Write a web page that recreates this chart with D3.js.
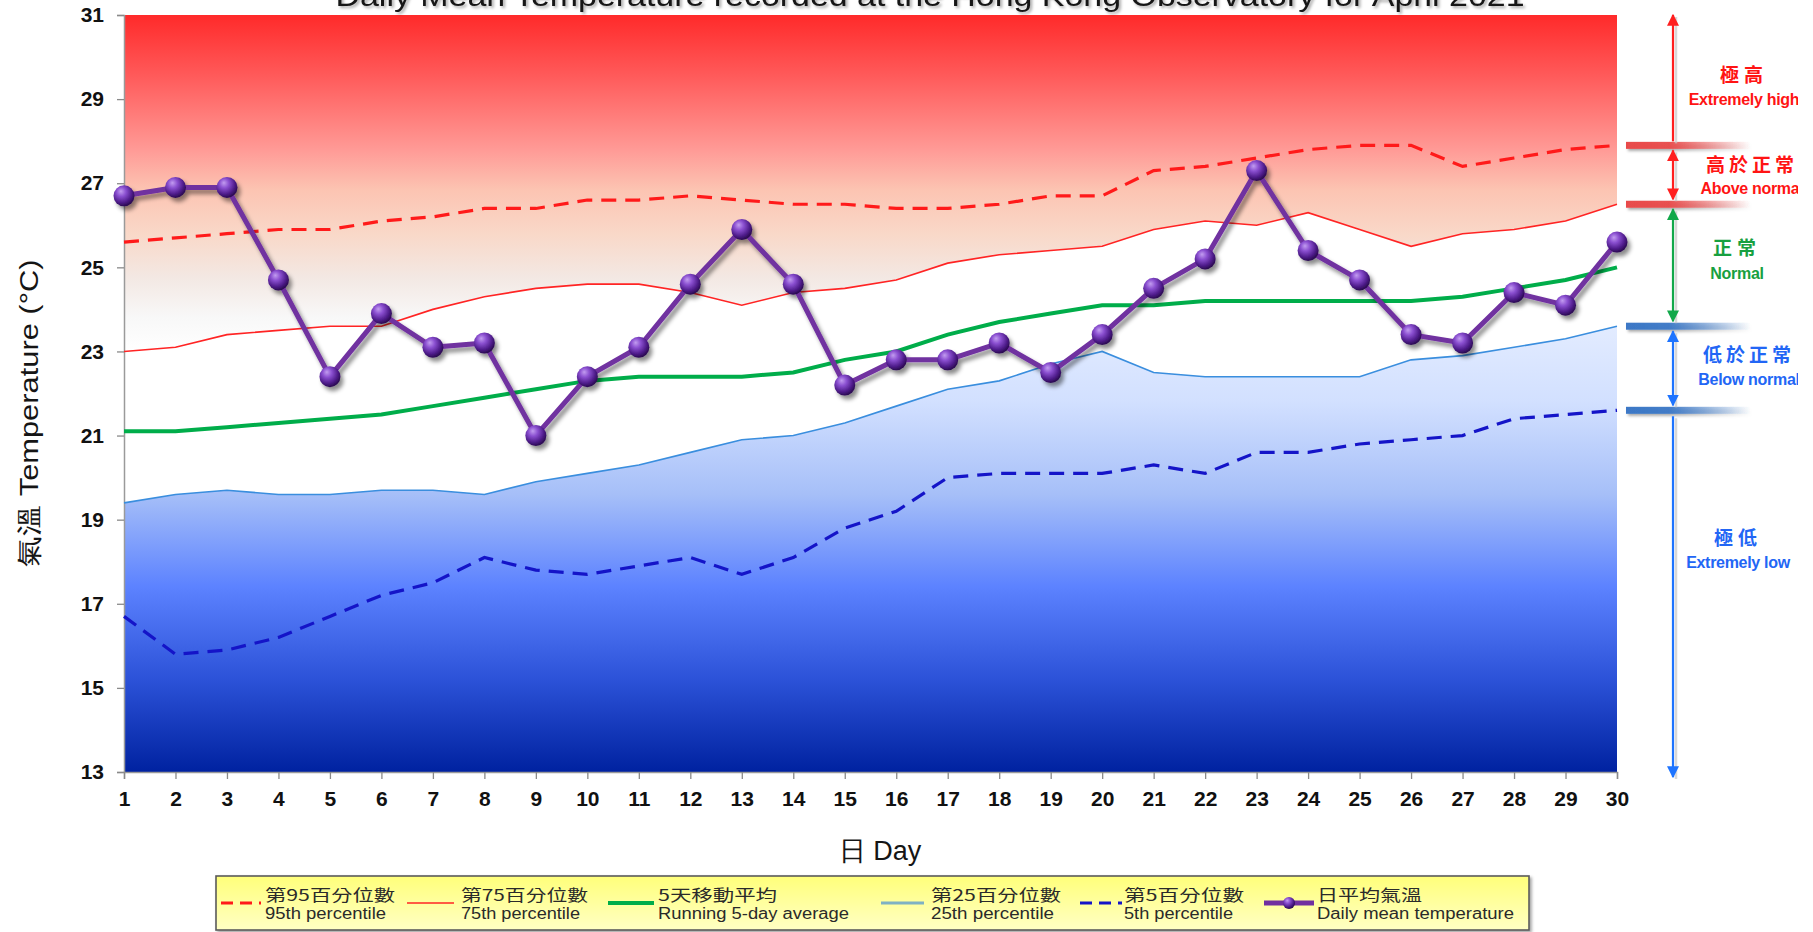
<!DOCTYPE html>
<html>
<head>
<meta charset="utf-8">
<script src="https://cdn.jsdelivr.net/npm/d3@7"></script>
<style>
  html, body { margin: 0; padding: 0; background: #fff; }
  svg { display: block; }
  text { font-family: "Liberation Sans", Arial, sans-serif; }
  .cjk { font-family: "Noto Sans CJK TC", "Noto Sans CJK SC", sans-serif; }
</style>
</head>
<body>
<svg id="chart" width="1813" height="932"></svg>
<script>
// April 2021 daily mean temperature (°C) with climatological percentiles
const days = [1,2,3,4,5,6,7,8,9,10,11,12,13,14,15,16,17,18,19,20,21,22,23,24,25,26,27,28,29,30];
const dailyMean = [26.7,26.9,26.9,24.7,22.4,23.9,23.1,23.2,21.0,22.4,23.1,24.6,25.9,24.6,22.2,22.8,22.8,23.2,22.5,23.4,24.5,25.2,27.3,25.4,24.7,23.4,23.2,24.4,24.1,25.6];
const p95 = [25.6,25.7,25.8,25.9,25.9,26.1,26.2,26.4,26.4,26.6,26.6,26.7,26.6,26.5,26.5,26.4,26.4,26.5,26.7,26.7,27.3,27.4,27.6,27.8,27.9,27.9,27.4,27.6,27.8,27.9];
const p75 = [23.0,23.1,23.4,23.5,23.6,23.6,24.0,24.3,24.5,24.6,24.6,24.4,24.1,24.4,24.5,24.7,25.1,25.3,25.4,25.5,25.9,26.1,26.0,26.3,25.9,25.5,25.8,25.9,26.1,26.5];
const running5 = [21.1,21.1,21.2,21.3,21.4,21.5,21.7,21.9,22.1,22.3,22.4,22.4,22.4,22.5,22.8,23.0,23.4,23.7,23.9,24.1,24.1,24.2,24.2,24.2,24.2,24.2,24.3,24.5,24.7,25.0];
const p25 = [19.4,19.6,19.7,19.6,19.6,19.7,19.7,19.6,19.9,20.1,20.3,20.6,20.9,21.0,21.3,21.7,22.1,22.3,22.7,23.0,22.5,22.4,22.4,22.4,22.4,22.8,22.9,23.1,23.3,23.6];
const p5 = [16.7,15.8,15.9,16.2,16.7,17.2,17.5,18.1,17.8,17.7,17.9,18.1,17.7,18.1,18.8,19.2,20.0,20.1,20.1,20.1,20.3,20.1,20.6,20.6,20.8,20.9,21.0,21.4,21.5,21.6];
const yTicks = [13,15,17,19,21,23,25,27,29,31];

const titleText = "Daily Mean Temperature recorded at the Hong Kong Observatory for April 2021";
const yTitle = "氣溫  Temperature (°C)";
const xTitle = "日 Day";
const legendZh = ["第95百分位數","第75百分位數","5天移動平均","第25百分位數","第5百分位數","日平均氣溫"];
const legendEn = ["95th percentile","75th percentile","Running 5-day average","25th percentile","5th percentile","Daily mean temperature"];
const bandZh = ["極高","高於正常","正常","低於正常","極低"];
const bandEn = ["Extremely high","Above normal","Normal","Below normal","Extremely low"];

const svg = d3.select("#chart");
const W = 1813, H = 932;
const x = d3.scaleLinear().domain([1, 30]).range([124, 1617]);
const y = d3.scaleLinear().domain([13, 31]).range([772, 15]);

const defs = svg.append("defs");

// vertical colour ramps tied to temperature, not to each area's own box
const redGrad = defs.append("linearGradient").attr("id", "redGrad")
  .attr("gradientUnits", "userSpaceOnUse")
  .attr("x1", 0).attr("x2", 0).attr("y1", y(31)).attr("y2", y(23));
[[0, "#ff2a2a"], [0.18, "#ff5a5a"], [0.4, "#ff9a96"], [0.52, "#fcc4b2"], [0.65, "#f9d8c8"], [0.78, "#f3e8e3"], [0.9, "#f8f8f8"], [1, "#ffffff"]]
  .forEach(([o, c]) => redGrad.append("stop").attr("offset", o).attr("stop-color", c));

const blueGrad = defs.append("linearGradient").attr("id", "blueGrad")
  .attr("gradientUnits", "userSpaceOnUse")
  .attr("x1", 0).attr("x2", 0).attr("y1", y(24)).attr("y2", y(13));
[[0, "#e6eeff"], [0.2, "#d2e0ff"], [0.4, "#a6bff8"], [0.6, "#5c82ff"], [0.8, "#2c52d8"], [1, "#0022a0"]]
  .forEach(([o, c]) => blueGrad.append("stop").attr("offset", o).attr("stop-color", c));

// sphere markers
const ball = defs.append("radialGradient").attr("id", "ball")
  .attr("cx", "40%").attr("cy", "35%").attr("r", "65%").attr("fx", "35%").attr("fy", "28%");
[[0, "#c29cf0"], [0.35, "#8a4fd0"], [0.75, "#4e1c8a"], [1, "#2a0a50"]]
  .forEach(([o, c]) => ball.append("stop").attr("offset", o).attr("stop-color", c));

const shadow = defs.append("filter").attr("id", "shadow")
  .attr("x", "-10%").attr("y", "-10%").attr("width", "130%").attr("height", "130%");
shadow.append("feDropShadow").attr("dx", 3).attr("dy", 4).attr("stdDeviation", 2.2)
  .attr("flood-color", "#000").attr("flood-opacity", 0.45);

const softShadow = defs.append("filter").attr("id", "softShadow")
  .attr("x", "-10%").attr("y", "-50%").attr("width", "130%").attr("height", "250%");
softShadow.append("feDropShadow").attr("dx", 2).attr("dy", 2).attr("stdDeviation", 1.5)
  .attr("flood-color", "#000").attr("flood-opacity", 0.35);

// threshold bars fading out to the right
function barGrad(id, color) {
  const g = defs.append("linearGradient").attr("id", id).attr("x1", 0).attr("x2", 1).attr("y1", 0).attr("y2", 0);
  g.append("stop").attr("offset", 0).attr("stop-color", color).attr("stop-opacity", 1);
  g.append("stop").attr("offset", 0.35).attr("stop-color", color).attr("stop-opacity", 0.95);
  g.append("stop").attr("offset", 1).attr("stop-color", color).attr("stop-opacity", 0);
}
barGrad("barRed", "#e84a4a");
barGrad("barBlue", "#3c78c6");

const legendGrad = defs.append("linearGradient").attr("id", "legendGrad").attr("x1", 0).attr("x2", 0).attr("y1", 0).attr("y2", 1);
legendGrad.append("stop").attr("offset", 0).attr("stop-color", "#ffff7a");
legendGrad.append("stop").attr("offset", 1).attr("stop-color", "#ffffc4");

defs.append("clipPath").attr("id", "rightClip").append("rect")
  .attr("x", 0).attr("y", 0).attr("width", 1798).attr("height", H);

function arrowMarker(id, color) {
  defs.append("marker").attr("id", id).attr("viewBox", "0 0 10 10")
    .attr("refX", 9).attr("refY", 5)
    .attr("orient", "auto-start-reverse").attr("markerUnits", "userSpaceOnUse")
    .attr("markerWidth", 12).attr("markerHeight", 12)
    .append("path").attr("d", "M0,0 L10,5 L0,10 z").attr("fill", color);
}
arrowMarker("arRed", "#ff1f1f");
arrowMarker("arGreen", "#12a84a");
arrowMarker("arBlue", "#1e74ff");

// ---- shaded bands ----
svg.append("path").datum(days)
  .attr("fill", "url(#redGrad)")
  .attr("d", d3.area().x(d => x(d)).y0(y(31)).y1((d, i) => y(p75[i])));

svg.append("path").datum(days)
  .attr("fill", "url(#blueGrad)")
  .attr("d", d3.area().x(d => x(d)).y0((d, i) => y(p25[i])).y1(y(13)));

// ---- axes ----
const yAxis = svg.append("g").attr("transform", `translate(${x(1)},0)`)
  .call(d3.axisLeft(y).tickValues(yTicks).tickSize(7).tickPadding(13).tickFormat(d3.format("d")));
const xAxis = svg.append("g").attr("transform", `translate(0,${y(13)})`)
  .call(d3.axisBottom(x).tickValues(days).tickSize(7).tickPadding(12).tickFormat(d3.format("d")));
[yAxis, xAxis].forEach(a => {
  a.select(".domain").attr("stroke", "#9a9a9a").attr("stroke-width", 1.5);
  a.selectAll(".tick line").attr("stroke", "#8a8a8a").attr("stroke-width", 1.3);
  a.selectAll(".tick text").attr("fill", "#111").attr("font-size", 21).attr("font-weight", "bold")
    .attr("font-family", "'Liberation Sans', Arial, sans-serif");
});

// ---- series lines ----
const line = vals => d3.line().x((d, i) => x(days[i])).y(d => y(d))(vals);

svg.append("path").attr("d", line(p75)).attr("fill", "none").attr("stroke", "#ff2424").attr("stroke-width", 1.6);
svg.append("path").attr("d", line(p25)).attr("fill", "none").attr("stroke", "#3a8ede").attr("stroke-width", 1.6);
svg.append("path").attr("d", line(p95)).attr("fill", "none").attr("stroke", "#ff1a1a").attr("stroke-width", 3.2)
  .attr("stroke-dasharray", "15,9");
svg.append("path").attr("d", line(p5)).attr("fill", "none").attr("stroke", "#1414c8").attr("stroke-width", 3.2)
  .attr("stroke-dasharray", "15,9");
svg.append("path").attr("d", line(running5)).attr("fill", "none").attr("stroke", "#00ad4a").attr("stroke-width", 4);

const daily = svg.append("g").attr("filter", "url(#shadow)");
daily.append("path").attr("d", line(dailyMean)).attr("fill", "none")
  .attr("stroke", "#7030a0").attr("stroke-width", 5).attr("stroke-linejoin", "round");
daily.selectAll("circle").data(dailyMean).join("circle")
  .attr("cx", (d, i) => x(days[i])).attr("cy", d => y(d)).attr("r", 10.5)
  .attr("fill", "url(#ball)");

// ---- category bands on the right ----
const last = a => a[a.length - 1];
const ann = svg.append("g");
const barX = 1626, barW = 124, arrowX = 1673;
[[last(p95), "barRed"], [last(p75), "barRed"], [last(p25), "barBlue"], [last(p5), "barBlue"]].forEach(([v, g]) => {
  ann.append("rect").attr("x", barX).attr("y", y(v) - 3.5).attr("width", barW).attr("height", 7)
    .attr("fill", `url(#${g})`).attr("filter", "url(#softShadow)");
});

const arrows = [
  { y1: y(31), y2: y(last(p95)) - 4, color: "#ff1f1f", m: "arRed", start: true, end: false },
  { y1: y(last(p95)) + 5, y2: y(last(p75)) - 5, color: "#ff1f1f", m: "arRed", start: true, end: true },
  { y1: y(last(p75)) + 5, y2: y(last(p25)) - 5, color: "#12a84a", m: "arGreen", start: true, end: true },
  { y1: y(last(p25)) + 5, y2: y(last(p5)) - 5, color: "#1e74ff", m: "arBlue", start: true, end: true },
  { y1: y(last(p5)) + 6, y2: y(13) + 5, color: "#1e74ff", m: "arBlue", start: false, end: true }
];
arrows.forEach(a => {
  ann.append("line").attr("x1", arrowX + 3).attr("x2", arrowX + 3).attr("y1", a.y1 + 2).attr("y2", a.y2 + 2)
    .attr("stroke", "#c8c8c8").attr("stroke-width", 2.5).attr("opacity", 0.7);
  const l = ann.append("line").attr("x1", arrowX).attr("x2", arrowX).attr("y1", a.y1).attr("y2", a.y2)
    .attr("stroke", a.color).attr("stroke-width", 2.2);
  if (a.start) l.attr("marker-start", `url(#${a.m})`);
  if (a.end) l.attr("marker-end", `url(#${a.m})`);
});

const bandLabels = [
  { cx: 1744, yz: 82, ye: 105, color: "#ff1414" },
  { cx: 1752, yz: 172, ye: 194, color: "#ff1414" },
  { cx: 1737, yz: 255, ye: 279, color: "#17a040" },
  { cx: 1749, yz: 362, ye: 385, color: "#2266f5" },
  { cx: 1738, yz: 545, ye: 568, color: "#2266f5" }
];
const bandG = ann.append("g").attr("clip-path", "url(#rightClip)");
bandLabels.forEach((b, i) => {
  bandG.append("text").attr("class", "cjk").attr("x", b.cx).attr("y", b.yz)
    .attr("text-anchor", "middle").attr("font-size", 19).attr("font-weight", "bold")
    .attr("letter-spacing", bandZh[i].length > 2 ? 4 : 5).attr("fill", b.color).text(bandZh[i]);
  bandG.append("text").attr("x", b.cx).attr("y", b.ye)
    .attr("text-anchor", "middle").attr("font-size", 16).attr("font-weight", "bold")
    .attr("letter-spacing", -0.3).attr("fill", b.color).text(bandEn[i]);
});

// ---- titles ----
svg.append("text").attr("x", 930).attr("y", 6).attr("text-anchor", "middle")
  .attr("font-size", 30).attr("fill", "#151515").attr("textLength", 1189).attr("lengthAdjust", "spacingAndGlyphs")
  .attr("filter", "url(#softShadow)").text(titleText);

svg.append("text").attr("transform", "translate(38,413) rotate(-90)").attr("text-anchor", "middle")
  .attr("font-size", 26).attr("fill", "#151515").attr("textLength", 307).attr("lengthAdjust", "spacingAndGlyphs")
  .attr("font-family", "'Liberation Sans', 'Noto Sans CJK TC', sans-serif").text(yTitle);

svg.append("text").attr("x", 880).attr("y", 860).attr("text-anchor", "middle")
  .attr("font-size", 27).attr("fill", "#151515")
  .attr("font-family", "'Liberation Sans', 'Noto Sans CJK TC', sans-serif").text(xTitle);

// ---- legend ----
const lg = svg.append("g");
lg.append("rect").attr("x", 216).attr("y", 876).attr("width", 1313).attr("height", 54)
  .attr("fill", "url(#legendGrad)").attr("stroke", "#5a5a5a").attr("stroke-width", 1.6)
  .attr("filter", "url(#softShadow)");

const legendItems = [
  { x1: 221, x2: 261, tx: 265, wz: 130, we: 121, stroke: "#ff1a1a", w: 3, dash: "12,7" },
  { x1: 407, x2: 454, tx: 461, wz: 127, we: 119, stroke: "#ff2424", w: 1.6 },
  { x1: 608, x2: 654, tx: 658, wz: 119, we: 191, stroke: "#00ad4a", w: 4 },
  { x1: 881, x2: 924, tx: 931, wz: 130, we: 123, stroke: "#7fb1c4", w: 3 },
  { x1: 1080, x2: 1122, tx: 1124, wz: 120, we: 109, stroke: "#1414c8", w: 3, dash: "12,7" },
  { x1: 1264, x2: 1314, tx: 1317, wz: 105, we: 197, stroke: "#7030a0", w: 5, dot: true }
];
legendItems.forEach((it, i) => {
  const ln = lg.append("line").attr("x1", it.x1).attr("x2", it.x2).attr("y1", 903).attr("y2", 903)
    .attr("stroke", it.stroke).attr("stroke-width", it.w);
  if (it.dash) ln.attr("stroke-dasharray", it.dash);
  if (it.dot) lg.append("circle").attr("cx", (it.x1 + it.x2) / 2).attr("cy", 903).attr("r", 6).attr("fill", "url(#ball)");
  lg.append("text").attr("class", "cjk").attr("x", it.tx).attr("y", 901).attr("font-size", 16)
    .attr("fill", "#2a2a2a").attr("textLength", it.wz).attr("lengthAdjust", "spacingAndGlyphs").text(legendZh[i]);
  lg.append("text").attr("x", it.tx).attr("y", 919).attr("font-size", 16)
    .attr("fill", "#2a2a2a").attr("textLength", it.we).attr("lengthAdjust", "spacingAndGlyphs").text(legendEn[i]);
});
</script>
</body>
</html>
